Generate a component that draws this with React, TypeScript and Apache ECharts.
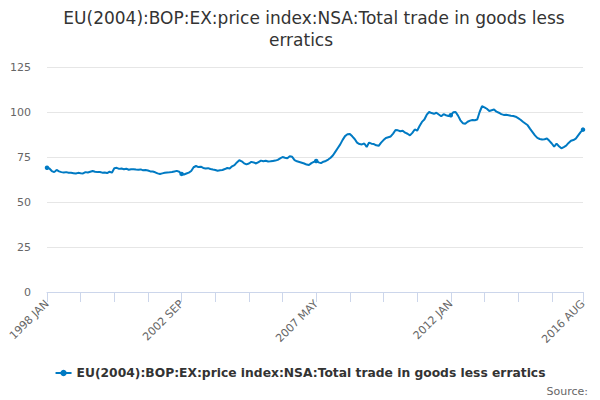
import React, { useEffect, useRef } from "react";
import * as echarts from "echarts";

const TITLE_LINE_1 = "EU(2004):BOP:EX:price index:NSA:Total trade in goods less";
const TITLE_LINE_2 = "erratics";
const SERIES_NAME = "EU(2004):BOP:EX:price index:NSA:Total trade in goods less erratics";
const MONTHS = ["JAN", "FEB", "MAR", "APR", "MAY", "JUN", "JUL", "AUG", "SEP", "OCT", "NOV", "DEC"];
const FIRST_YEAR = 1998;
const LAST_YEAR = 2016;
const LAST_MONTH_COUNT = 8;
const Y_TICKS = [0, 25, 50, 75, 100, 125];

const v1998 = [69.0, 68.6, 67.2, 66.6, 67.8, 67.0, 66.6, 66.4, 66.6, 66.3, 66.2, 66.0];
const v1999 = [65.8, 66.2, 66.0, 65.9, 66.6, 66.4, 66.8, 67.2, 66.8, 66.6, 66.7, 66.3];
const v2000 = [66.4, 66.1, 66.8, 66.3, 68.8, 69.0, 68.4, 68.6, 68.2, 68.5, 67.9, 68.2];
const v2001 = [68.2, 68.0, 67.9, 68.1, 67.6, 67.8, 67.5, 67.0, 66.9, 66.5, 65.9, 65.6];
const v2002 = [65.9, 66.2, 66.4, 66.5, 66.7, 67.0, 67.3, 66.8, 65.6, 65.3, 65.8, 66.3];
const v2003 = [67.2, 69.3, 70.0, 69.4, 69.6, 68.9, 68.6, 68.8, 68.3, 68.0, 67.8, 67.4];
const v2004 = [67.6, 67.8, 68.3, 68.9, 68.6, 69.8, 70.5, 72.0, 73.2, 72.6, 71.5, 70.9];
const v2005 = [71.4, 72.3, 72.0, 71.4, 72.2, 73.0, 72.6, 72.9, 72.5, 72.6, 72.8, 73.0];
const v2006 = [73.4, 74.2, 75.0, 74.6, 74.3, 75.4, 75.1, 73.3, 72.6, 72.2, 71.8, 71.4];
const v2007 = [70.8, 70.5, 71.6, 72.3, 72.8, 72.0, 71.6, 72.4, 72.8, 73.6, 74.6, 76.0];
const v2008 = [78.0, 80.0, 82.0, 84.5, 86.6, 87.6, 87.8, 86.5, 85.0, 83.0, 82.2, 82.0];
const v2009 = [82.5, 80.6, 83.0, 82.4, 82.2, 81.5, 81.2, 83.0, 84.4, 85.6, 86.0, 86.4];
const v2010 = [88.0, 90.0, 89.8, 89.3, 89.6, 88.5, 87.9, 87.0, 88.4, 90.3, 89.6, 92.2];
const v2011 = [94.5, 95.8, 98.5, 100.0, 99.4, 99.0, 99.6, 98.6, 97.6, 98.8, 98.2, 97.8];
const v2012 = [98.2, 99.8, 100.0, 98.0, 95.4, 93.8, 93.5, 94.6, 95.2, 95.6, 95.4, 95.8];
const v2013 = [100.0, 103.2, 102.6, 101.8, 100.6, 101.0, 101.4, 100.2, 99.6, 98.8, 98.4, 98.5];
const v2014 = [98.2, 97.9, 97.8, 97.4, 96.6, 95.7, 94.6, 93.6, 92.6, 90.6, 88.8, 87.0];
const v2015 = [85.6, 85.0, 84.7, 84.9, 85.3, 84.0, 82.5, 80.8, 82.4, 81.0, 79.8, 80.5];
const v2016 = [81.3, 82.8, 84.0, 84.4, 85.2, 87.0, 88.8, 90.2];

const values = [
  ...v1998, ...v1999, ...v2000, ...v2001, ...v2002, ...v2003, ...v2004, ...v2005, ...v2006,
  ...v2007, ...v2008, ...v2009, ...v2010, ...v2011, ...v2012, ...v2013, ...v2014, ...v2015, ...v2016,
];

const categories: string[] = [];
for (let y = FIRST_YEAR; y <= LAST_YEAR; y++) {
  const n = y === LAST_YEAR ? LAST_MONTH_COUNT : 12;
  for (let m = 0; m < n; m++) categories.push(`${y} ${MONTHS[m]}`);
}

const FONT = "DejaVu Sans";

export default function App() {
  const ref = useRef<HTMLDivElement>(null);
  useEffect(() => {
    if (!ref.current) return;
    const chart = echarts.init(ref.current, undefined, { renderer: "svg" });
    const last = categories.length - 1;
    const titleStyle = { fontFamily: FONT, fontSize: 17, fontWeight: "normal", fill: "#333333", textAlign: "center", textVerticalAlign: "middle" };
    chart.setOption({
      animation: false,
      textStyle: { fontFamily: FONT },
      title: [
        {
          text: "Source:",
          right: 12,
          bottom: 3,
          padding: 0,
          textStyle: { fontFamily: FONT, fontSize: 11, fontWeight: "normal", color: "#666666" },
        },
      ],
      graphic: [
        { type: "text", x: 314, y: 18, style: { ...titleStyle, text: TITLE_LINE_1 } },
        { type: "text", x: 301, y: 40, style: { ...titleStyle, text: TITLE_LINE_2 } },
      ],
      legend: {
        bottom: 16,
        left: "center",
        itemWidth: 16,
        itemHeight: 8,
        itemGap: 5,
        textStyle: { fontFamily: FONT, fontSize: 12.3, fontWeight: "bold", color: "#333333" },
        data: [SERIES_NAME],
      },
      grid: { left: 47, right: 17, top: 67, bottom: 108, containLabel: false },
      xAxis: {
        type: "category",
        data: categories,
        boundaryGap: false,
        axisLine: { lineStyle: { color: "#ccd6eb", width: 1 } },
        axisTick: {
          show: true,
          length: 10,
          interval: (i: number) => i % 14 === 0 || i === last,
          lineStyle: { color: "#ccd6eb" },
        },
        axisLabel: {
          interval: (i: number) => i % 56 === 0 || i === last,
          rotate: 45,
          fontFamily: FONT,
          fontSize: 11,
          color: "#666666",
          margin: 10,
        },
        splitLine: { show: false },
      },
      yAxis: {
        type: "value",
        min: Y_TICKS[0],
        max: Y_TICKS[Y_TICKS.length - 1],
        interval: 25,
        axisLine: { show: false },
        axisTick: { show: false },
        axisLabel: { fontFamily: FONT, fontSize: 11, color: "#666666", margin: 16 },
        splitLine: { lineStyle: { color: "#e6e6e6", width: 1 } },
      },
      series: [
        {
          name: SERIES_NAME,
          type: "line",
          data: values,
          symbol: "circle",
          symbolSize: 4.5,
          showSymbol: true,
          itemStyle: { color: "#007ac3" },
          lineStyle: { color: "#007ac3", width: 2 },
        },
      ],
    });
    return () => chart.dispose();
  }, []);
  return (
    <div
      ref={ref}
      style={{ position: "fixed", left: 0, top: 0, width: 600, height: 400, background: "#ffffff" }}
    />
  );
}
